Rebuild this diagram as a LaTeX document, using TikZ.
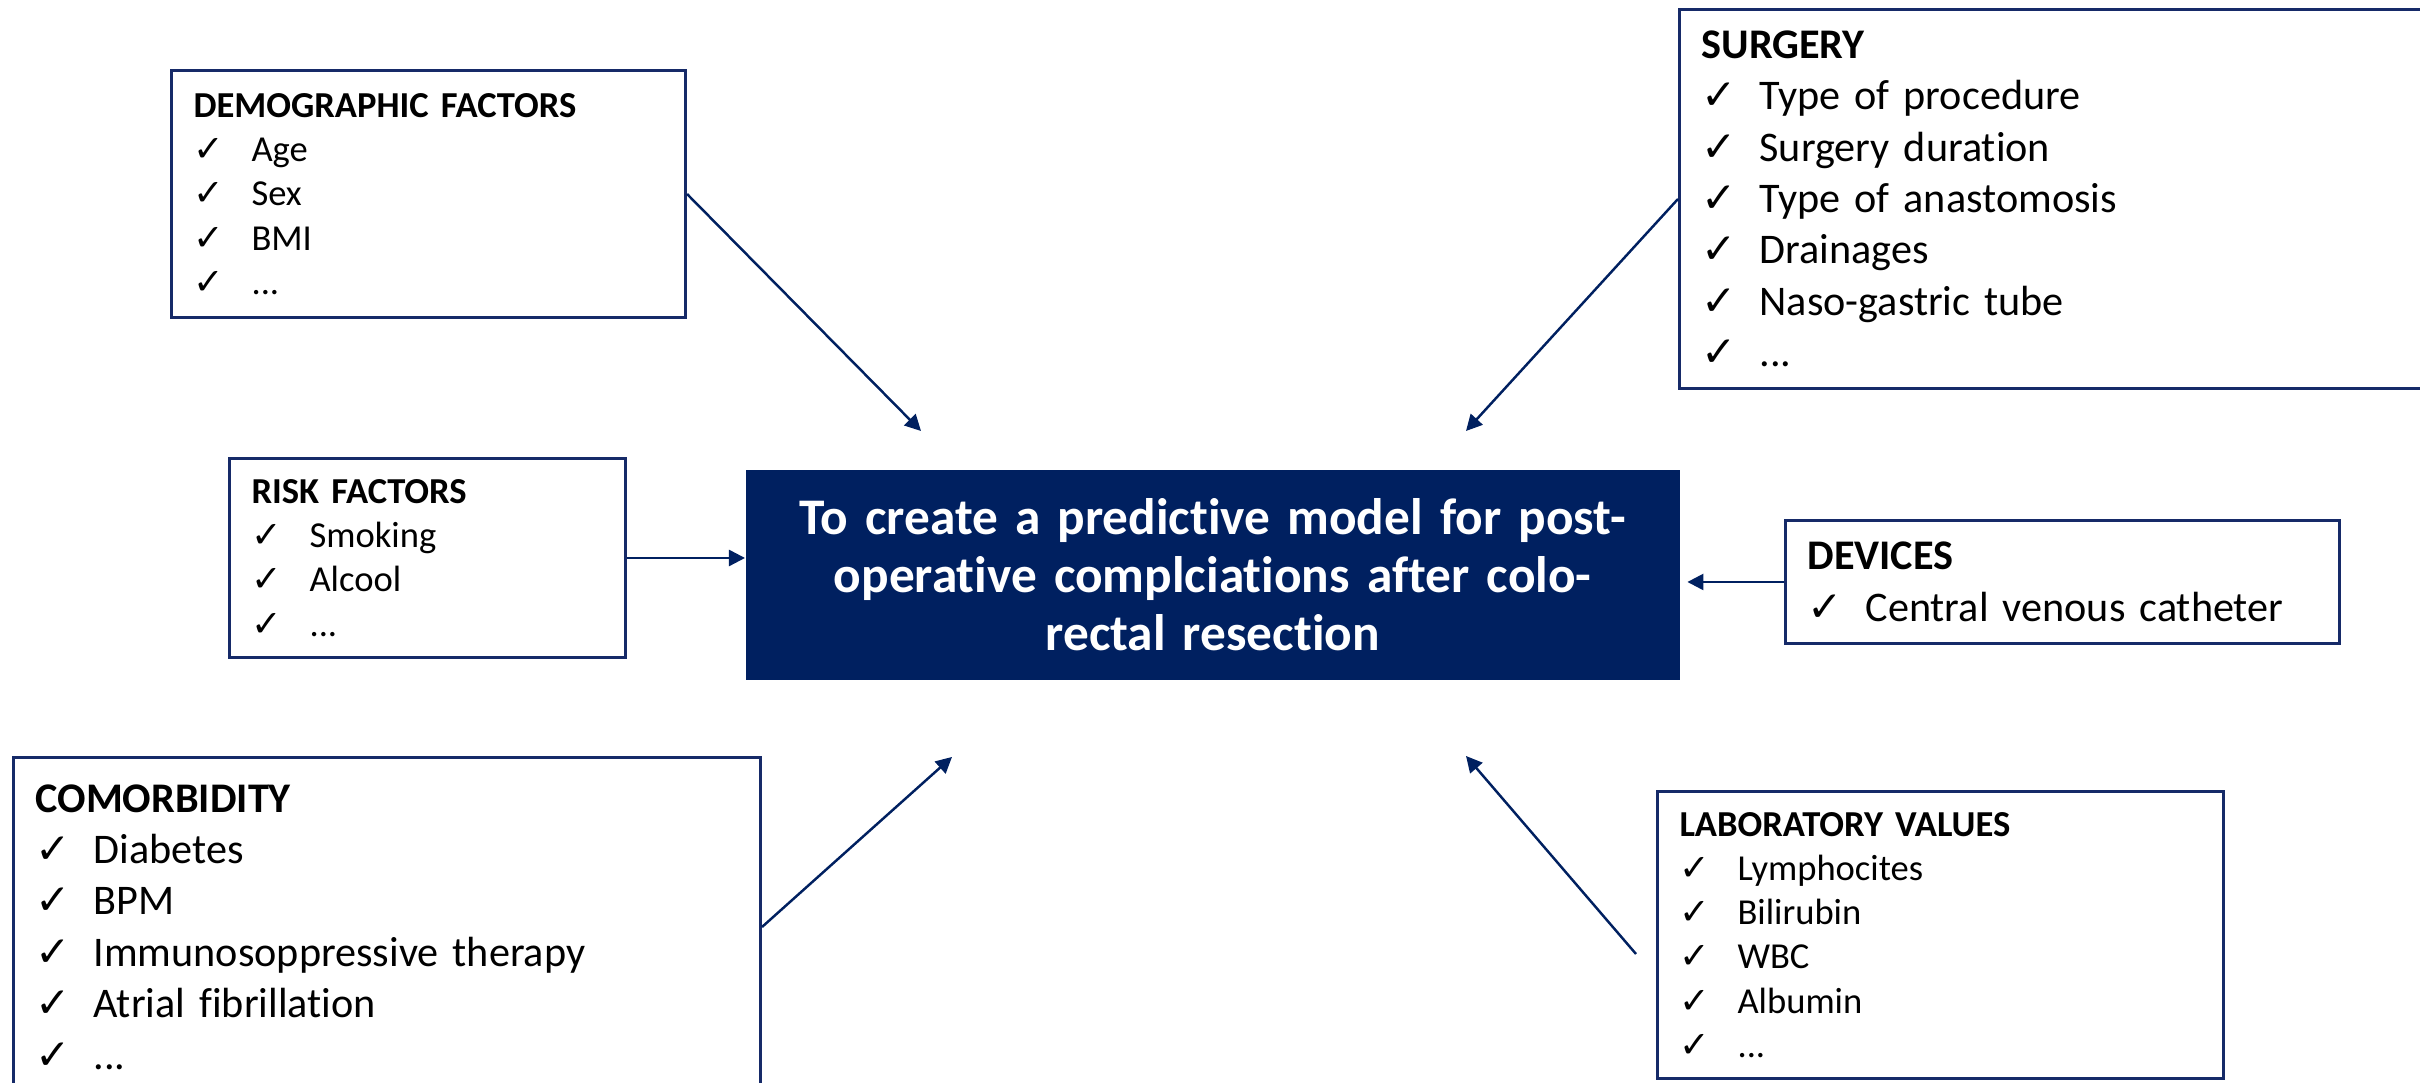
\documentclass[tikz,border=0pt]{standalone}
\usepackage{fontspec}
\setmainfont{Carlito}[Ligatures=NoCommon]
\newfontfamily\dejavu{DejaVu Sans}
\usetikzlibrary{arrows.meta,calc}
\definecolor{navy}{RGB}{0,32,96}
\definecolor{navyb}{RGB}{22,42,104}
\newcommand{\chk}{{\dejavu\bfseries ✓}}
\newcommand{\itm}[1]{\makebox[0.58cm][l]{\chk}#1}
\tikzset{
  fbox/.style={draw=navyb, line width=0.85pt, align=left, inner xsep=0.22cm, inner ysep=0pt, anchor=north west},
  smallf/.style={font=\fontsize{10.4pt}{12.6pt}\selectfont},
  bigf/.style={font=\fontsize{12pt}{14.6pt}\selectfont},
  conn/.style={draw=navy, line width=0.7pt, -{Triangle[length=0.16cm,width=0.16cm]}},
  goal/.style={fill=navy, draw=none, text=white, align=center, inner sep=0pt, anchor=north west,
    font=\fontsize{14.6pt}{16.6pt}\selectfont\bfseries}
}
\begin{document}
\begin{tikzpicture}[x=0.01cm,y=-0.01cm]
\useasboundingbox (0,0) rectangle (2420,1083);
% central goal
\node[goal, minimum width=934*0.01cm, minimum height=210*0.01cm, text width=880*0.01cm] (goal) at (745,469)
  {To create a predictive model for post-\\operative complciations after colo-\\rectal resection};
% demographic
\node[fbox, smallf, text width=470*0.01cm, minimum height=247*0.01cm] (demo) at (170,69)
  {\textbf{DEMOGRAPHIC FACTORS}\\\itm{Age}\\\itm{Sex}\\\itm{BMI}\\\itm{...}};
% surgery
\node[fbox, bigf, text width=716*0.01cm, minimum height=379*0.01cm] (surg) at (1678,8)
  {\textbf{SURGERY}\\\itm{Type of procedure}\\\itm{Surgery duration}\\\itm{Type of anastomosis}\\\itm{Drainages}\\\itm{Naso-gastric tube}\\\itm{...}};
% risk
\node[fbox, smallf, text width=352*0.01cm, minimum height=199*0.01cm] (risk) at (228,457)
  {\textbf{RISK FACTORS}\\\itm{Smoking}\\\itm{Alcool}\\\itm{...}};
% devices
\node[fbox, bigf, text width=510*0.01cm, minimum height=123*0.01cm] (dev) at (1784,519)
  {\textbf{DEVICES}\\\itm{Central venous catheter}};
% comorbidity
\node[fbox, bigf, text width=703*0.01cm, minimum height=339*0.01cm] (comor) at (12,756)
  {\textbf{COMORBIDITY}\\\itm{Diabetes}\\\itm{BPM}\\\itm{Immunosoppressive therapy}\\\itm{Atrial fibrillation}\\\itm{...}};
% laboratory
\node[fbox, smallf, text width=522*0.01cm, minimum height=287*0.01cm] (lab) at (1656,790)
  {\textbf{LABORATORY VALUES}\\\itm{Lymphocites}\\\itm{Bilirubin}\\\itm{WBC}\\\itm{Albumin}\\\itm{...}};
% arrow end points
\coordinate (tDemo) at (921,431);
\coordinate (tSurg) at (1466,431);
\coordinate (tComor) at (952,757);
\coordinate (tLab) at (1466,756);
\coordinate (sLab) at ($(lab.west)+(-20,19)$);
% connectors
\draw[conn] (demo.east) -- (tDemo);
\draw[conn] (surg.west) -- (tSurg);
\draw[conn] (risk.east) -- (risk.east -| goal.west);
\draw[conn, shorten >=0.07cm] (dev.west) -- (dev.west -| goal.east);
\draw[conn] (comor.east) -- (tComor);
\draw[conn] (sLab) -- (tLab);
\end{tikzpicture}
\end{document}
